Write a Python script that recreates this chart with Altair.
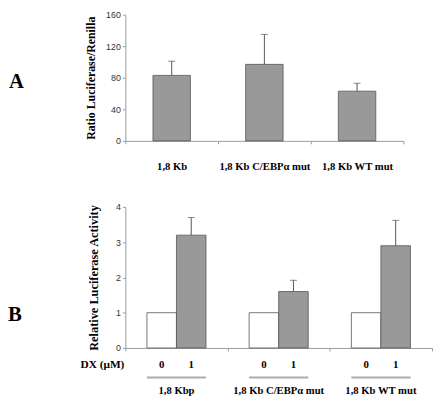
import altair as alt
import pandas as pd

# ---------------- Panel A data ----------------
a_constructs = ["1,8 Kb", "1,8 Kb C/EBPα mut", "1,8 Kb WT mut"]
a_ratio = [83, 97, 63]
a_upper = [101, 135, 73]
a_ticks = [0, 40, 80, 120, 160]

# ---------------- Panel B data ----------------
b_groups = ["1,8 Kbp", "1,8 Kb C/EBPα mut", "1,8 Kb WT mut"]
b_doses = ["0", "1"]
b_rel_dose0 = [1.0, 1.0, 1.0]
b_rel_dose1 = [3.2, 1.6, 2.9]
b_upper_dose1 = [3.7, 1.92, 3.62]
b_ticks = [0, 1, 2, 3, 4]

SERIF = "Liberation Serif"
SANS = "Liberation Sans"
AXIS_GRAY = "#9a9a9a"
DARK = "#555555"
BAR_GRAY = "#999999"

# ---------------- Panel A ----------------
W1, H1 = 282, 128
dfa = pd.DataFrame({"construct": a_constructs, "ratio": a_ratio, "upper": a_upper})

xa_axis = alt.Axis(title=None, labelAngle=0, tickBand="extent", tickSize=3,
                   labelPadding=17, labelFont=SERIF, labelFontWeight="bold",
                   labelFontSize=10.8, labelColor="black",
                   domainColor=AXIS_GRAY, tickColor=AXIS_GRAY)
xa = alt.X("construct:N", sort=a_constructs,
           scale=alt.Scale(paddingInner=0, paddingOuter=0), axis=xa_axis)
ya_axis = alt.Axis(values=a_ticks, title="Ratio Luciferase/Renilla",
                   titleFont=SERIF, titleFontWeight="bold", titleFontSize=12,
                   titleColor="black", titlePadding=8, labelOverlap=False,
                   labelFont=SANS, labelFontSize=9, labelColor="#333333",
                   tickSize=3, labelPadding=2, grid=False,
                   domainColor=AXIS_GRAY, tickColor=AXIS_GRAY)
ya = alt.Y("ratio:Q", scale=alt.Scale(domain=[0, 160], nice=False), axis=ya_axis)

bars_a = alt.Chart(dfa).mark_bar(width=alt.RelativeBandSize(0.404), color=BAR_GRAY,
                                 stroke=DARK, strokeWidth=0.8).encode(x=xa, y=ya)
err_a = alt.Chart(dfa).mark_rule(color=DARK, strokeWidth=1).encode(
    x=xa, y=ya, y2="upper:Q")
cap_a = alt.Chart(dfa).mark_tick(orient="horizontal", size=7, thickness=1, color=DARK).encode(
    x=xa, y=alt.Y("upper:Q", axis=ya_axis))
lab_a = alt.Chart(pd.DataFrame({"t": ["A"]})).mark_text(
    font=SERIF, fontWeight="bold", fontSize=21, align="left", baseline="middle", color="black"
).encode(text="t:N", x=alt.value(-118), y=alt.value(68))

panel_a = alt.layer(bars_a, err_a, cap_a, lab_a).properties(width=W1, height=H1)

# ---------------- Panel B ----------------
W2, H2 = 311, 143
rows = []
for g, v0, v1 in zip(b_groups, b_rel_dose0, b_rel_dose1):
    rows.append({"group": g, "dose": "0", "value": v0})
    rows.append({"group": g, "dose": "1", "value": v1})
dfb = pd.DataFrame(rows)
dfb_err = pd.DataFrame({"group": b_groups, "dose": ["1"] * 3,
                        "value": b_rel_dose1, "upper": b_upper_dose1})
dfg = pd.DataFrame({"group": b_groups})

xb_axis = alt.Axis(title=None, labels=False, tickBand="extent", tickSize=3,
                   domainColor=AXIS_GRAY, tickColor=AXIS_GRAY)
xb = alt.X("group:N", sort=b_groups, scale=alt.Scale(paddingInner=0, paddingOuter=0),
           axis=xb_axis)
xob = alt.XOffset("dose:N", sort=b_doses, scale=alt.Scale(paddingInner=0, paddingOuter=0.73))
yb_axis = alt.Axis(values=b_ticks, title="Relative Luciferase Activity",
                   titleFont=SERIF, titleFontWeight="bold", titleFontSize=12.5,
                   titleColor="black", titlePadding=15, labelOverlap=False,
                   labelFont=SANS, labelFontSize=9, labelColor="#333333",
                   tickSize=3, labelPadding=2, grid=False,
                   domainColor=AXIS_GRAY, tickColor=AXIS_GRAY)
yb = alt.Y("value:Q", scale=alt.Scale(domain=[0, 4], nice=False), axis=yb_axis)
colb = alt.Color("dose:N", scale=alt.Scale(domain=b_doses, range=["white", BAR_GRAY]), legend=None)

bars_b = alt.Chart(dfb).mark_bar(stroke=DARK, strokeWidth=0.8).encode(
    x=xb, xOffset=xob, y=yb, color=colb)
err_b = alt.Chart(dfb_err).mark_rule(color=DARK, strokeWidth=1).encode(
    x=xb, xOffset=xob, y=yb, y2="upper:Q")
cap_b = alt.Chart(dfb_err).mark_tick(orient="horizontal", size=7, thickness=1, color=DARK).encode(
    x=xb, xOffset=xob, y=alt.Y("upper:Q", axis=yb_axis))
dose_txt = alt.Chart(dfb).mark_text(font=SERIF, fontWeight="bold", fontSize=11, color="black").encode(
    x=xb, xOffset=xob, y=alt.value(H2 + 17), text="dose:N")
underline = alt.Chart(dfg).mark_tick(orient="horizontal", size=60, thickness=2, color="#8a8a8a").encode(
    x=xb, y=alt.value(H2 + 30))
group_txt = alt.Chart(dfg).mark_text(font=SERIF, fontWeight="bold", fontSize=10.8, color="black").encode(
    x=xb, y=alt.value(H2 + 44), text="group:N")
dx_txt = alt.Chart(pd.DataFrame({"t": ["DX (μM)"]})).mark_text(
    font=SERIF, fontWeight="bold", fontSize=11.5, align="right", color="black"
).encode(x=alt.value(-1), y=alt.value(H2 + 17), text="t:N")
lab_b = alt.Chart(pd.DataFrame({"t": ["B"]})).mark_text(
    font=SERIF, fontWeight="bold", fontSize=21, align="left", baseline="middle", color="black"
).encode(text="t:N", x=alt.value(-119), y=alt.value(110))

panel_b = alt.layer(bars_b, err_b, cap_b, dose_txt, underline, group_txt, dx_txt, lab_b).properties(
    width=W2, height=H2)

chart = alt.vconcat(panel_a, panel_b, spacing=32).properties(
    padding=0, background="white"
).configure_view(stroke=None).configure_axis(labelOverlap=False)

chart.save("out.html", embed_options={"renderer": "svg", "actions": False})
